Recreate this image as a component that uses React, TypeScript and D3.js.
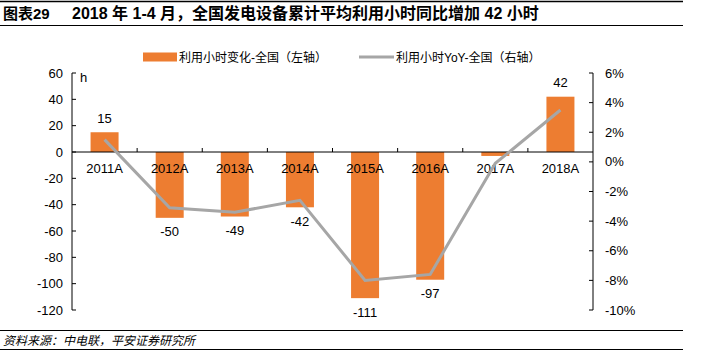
import React, { useRef, useEffect } from 'react';
import * as d3 from 'd3';

const categories = ['2011A', '2012A', '2013A', '2014A', '2015A', '2016A', '2017A', '2018A'];
const hoursChange = [15, -50, -49, -42, -111, -97, -3, 42];
const hoursYoY = [1.5, -3.1, -3.4, -2.6, -8.0, -7.6, -0.1, 3.5];
const leftTicks = [60, 40, 20, 0, -20, -40, -60, -80, -100, -120];
const rightTicks = [6, 4, 2, 0, -2, -4, -6, -8, -10];

const W = 709;
const H = 354;
const LATIN = '"Liberation Sans", Arial, sans-serif';
const CJK = '"Liberation Sans", "Noto Sans CJK SC", sans-serif';
const BAR = '#ED7D31';
const LINE = '#A6A6A6';

const App: React.FC = () => {
  const svgRef = useRef<SVGSVGElement>(null);

  useEffect(() => {
    const svg = d3.select(svgRef.current);
    svg.selectAll('*').remove();

    const left = 72;
    const right = 593;
    const top = 73;
    const bottom = 310;

    const x = d3.scaleBand<string>().domain(categories).range([left, right]).paddingInner(0.57).paddingOuter(0.285);
    const band = d3.scaleBand<string>().domain(categories).range([left, right]);
    const yL = d3.scaleLinear().domain([-120, 60]).range([bottom, top]);
    const yR = d3.scaleLinear().domain([-10, 6]).range([bottom, top]);

    // header
    svg.append('line').attr('x1', 0).attr('x2', 683).attr('y1', 1.5).attr('y2', 1.5)
      .attr('stroke', '#000').attr('stroke-width', 1.5);
    svg.append('text').attr('x', 3).attr('y', 19)
      .style('font-family', CJK).style('font-size', '15px').style('font-weight', 'bold')
      .text('图表29');
    svg.append('text').attr('x', 72).attr('y', 19)
      .style('font-family', CJK).style('font-size', '16px').style('font-weight', 'bold')
      .text('2018 年 1-4 月，全国发电设备累计平均利用小时同比增加 42 小时');
    svg.append('line').attr('x1', 0).attr('x2', 683).attr('y1', 25.5).attr('y2', 25.5)
      .attr('stroke', '#000').attr('stroke-width', 1);

    // legend
    svg.append('rect').attr('x', 143).attr('y', 52.5).attr('width', 34).attr('height', 9).attr('fill', BAR);
    svg.append('text').attr('x', 179).attr('y', 61.5)
      .style('font-family', CJK).style('font-size', '12px').text('利用小时变化-全国（左轴）');
    svg.append('line').attr('x1', 359).attr('x2', 394).attr('y1', 57).attr('y2', 57)
      .attr('stroke', LINE).attr('stroke-width', 3);
    svg.append('text').attr('x', 396).attr('y', 61.5)
      .style('font-family', CJK).style('font-size', '12px').text('利用小时YoY-全国（右轴）');

    // bars
    svg.append('g').selectAll('rect').data(hoursChange).enter().append('rect')
      .attr('x', (_, i) => x(categories[i])!)
      .attr('width', x.bandwidth())
      .attr('y', d => yL(Math.max(0, d)))
      .attr('height', d => Math.abs(yL(d) - yL(0)))
      .attr('fill', BAR);

    // left axis
    const axL = svg.append('g').attr('stroke', '#000').attr('stroke-width', 1);
    axL.append('line').attr('x1', left).attr('x2', left).attr('y1', top).attr('y2', bottom);
    leftTicks.forEach(t => {
      axL.append('line').attr('x1', left).attr('x2', left + 4).attr('y1', yL(t)).attr('y2', yL(t));
      svg.append('text').attr('x', left - 9).attr('y', yL(t)).attr('dy', '0.35em')
        .attr('text-anchor', 'end').style('font-family', LATIN).style('font-size', '13px').text(t);
    });
    svg.append('text').attr('x', 80).attr('y', 82).style('font-family', LATIN).style('font-size', '13px').text('h');

    // right axis
    const axR = svg.append('g').attr('stroke', '#000').attr('stroke-width', 1);
    axR.append('line').attr('x1', right).attr('x2', right).attr('y1', top).attr('y2', bottom);
    rightTicks.forEach(t => {
      axR.append('line').attr('x1', right - 4).attr('x2', right).attr('y1', yR(t)).attr('y2', yR(t));
      svg.append('text').attr('x', right + 12).attr('y', yR(t)).attr('dy', '0.35em')
        .style('font-family', LATIN).style('font-size', '13px').text(`${t}%`);
    });

    // category axis at zero
    const y0 = yL(0);
    svg.append('line').attr('x1', left).attr('x2', right).attr('y1', y0).attr('y2', y0)
      .attr('stroke', '#000').attr('stroke-width', 1);
    categories.forEach((c, i) => {
      if (i > 0) {
        const bx = band(c)!;
        svg.append('line').attr('x1', bx).attr('x2', bx).attr('y1', y0 - 4).attr('y2', y0)
          .attr('stroke', '#000').attr('stroke-width', 1);
      }
      svg.append('text').attr('x', band(c)! + band.bandwidth() / 2).attr('y', y0 + 16)
        .attr('dy', '0.35em').attr('text-anchor', 'middle')
        .style('font-family', LATIN).style('font-size', '13px').text(c);
    });

    // line
    const line = d3.line<number>()
      .x((_, i) => band(categories[i])! + band.bandwidth() / 2)
      .y(d => yR(d));
    svg.append('path').datum(hoursYoY).attr('d', line).attr('fill', 'none')
      .attr('stroke', LINE).attr('stroke-width', 3);

    // value labels
    hoursChange.forEach((v, i) => {
      if (i === 6) return;
      const cx = band(categories[i])! + band.bandwidth() / 2;
      const yy = v >= 0 ? yL(v) - 14 : yL(v) + 14;
      svg.append('text').attr('x', cx).attr('y', yy).attr('dy', '0.35em').attr('text-anchor', 'middle')
        .style('font-family', LATIN).style('font-size', '13px').text(v);
    });

    // footer
    svg.append('line').attr('x1', 0).attr('x2', 683).attr('y1', 330.5).attr('y2', 330.5)
      .attr('stroke', '#000').attr('stroke-width', 1);
    svg.append('text').attr('x', 3).attr('y', 345)
      .style('font-family', '"Noto Sans CJK SC", sans-serif').style('font-size', '12px').style('font-style', 'italic')
      .text('资料来源：中电联，平安证券研究所');
    svg.append('line').attr('x1', 0).attr('x2', 683).attr('y1', 349.5).attr('y2', 349.5)
      .attr('stroke', '#000').attr('stroke-width', 1);
  }, []);

  return (
    <svg ref={svgRef} width={W} height={H} viewBox={`0 0 ${W} ${H}`}
      style={{ position: 'absolute', left: 0, top: 0, background: '#fff' }} />
  );
};

export default App;
